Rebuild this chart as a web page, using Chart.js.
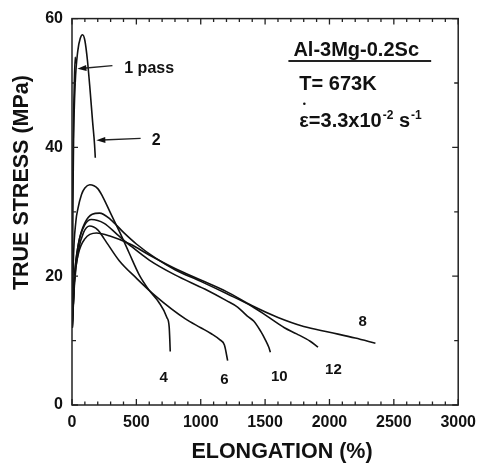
<!DOCTYPE html>
<html>
<head>
<meta charset="utf-8">
<script src="https://cdn.jsdelivr.net/npm/chart.js@4.4.0/dist/chart.umd.min.js"></script>
<style>
  body { margin: 0; background: #fff; }
  canvas { display: block; }
</style>
</head>
<body>
<canvas id="chart" width="484" height="464"></canvas>
<script>
// axis ticks
const xTicks = [0, 500, 1000, 1500, 2000, 2500, 3000];
const yTicks = [0, 20, 40, 60];

// curves: elongation (%) and true stress (MPa)
const pass1E = [1, 4, 10, 18, 25, 30];
const pass1S = [13, 30, 42, 50, 54, 53];

const pass2E = [2, 6, 13, 25, 45, 65, 82, 100, 120, 140, 160, 175, 181];
const pass2S = [13, 30, 42, 50, 55, 57, 57.5, 56.6, 53.5, 49, 44, 40.5, 38.4];

const pass4E = [2, 10, 30, 46, 74, 100, 138, 200, 237, 304, 367, 444, 520, 600, 673, 737, 755, 760, 763];
const pass4S = [13, 22, 28.5, 30.5, 32.7, 33.7, 34.2, 33.6, 32.4, 29.6, 27, 23.6, 20.3, 17.8, 16, 13.6, 12.1, 10, 8.3];

const pass6E = [2, 20, 50, 90, 138, 200, 250, 367, 500, 650, 878, 1000, 1079, 1150, 1184, 1209];
const pass6S = [12, 19, 24, 26.8, 27.8, 27.2, 25.8, 22.4, 19.7, 16.9, 13.4, 12, 11.1, 10.1, 9.3, 6.9];

const pass8E = [2, 20, 50, 100, 190, 300, 450, 600, 800, 1000, 1200, 1400, 1600, 1800, 2000, 2200, 2357];
const pass8S = [12, 19.5, 23.5, 25.8, 26.7, 26.2, 25, 23.3, 21.2, 19.4, 17.6, 15.4, 13.6, 12.2, 11.3, 10.4, 9.6];

const pass10E = [2, 20, 50, 100, 151, 250, 350, 450, 600, 800, 1031, 1200, 1286, 1362, 1413, 1464, 1500, 1528, 1541];
const pass10S = [12, 20, 25, 28, 28.8, 28.2, 26.5, 24.8, 22.5, 20.2, 18, 16.2, 15.2, 13.8, 13, 11.5, 10.2, 9, 8.2];

const pass12E = [2, 20, 50, 100, 214, 300, 400, 500, 650, 800, 1000, 1200, 1400, 1515, 1650, 1745, 1850, 1911];
const pass12S = [12, 20, 25, 28.3, 29.8, 28.8, 26.8, 25, 22.8, 21, 19.2, 17.3, 15.3, 13.8, 12, 11.05, 9.9, 9];

const curves = [
  [pass1E, pass1S], [pass2E, pass2S], [pass4E, pass4S], [pass6E, pass6S],
  [pass8E, pass8S], [pass10E, pass10S], [pass12E, pass12S]
];

const FONT = '"Liberation Sans", Arial, Helvetica, sans-serif';
const INK = '#111';

// text put on the plot, placed in data units
const notes = [
  { text: '1 pass', e: 406, s: 51.5, size: 16 },
  { text: '2', e: 620, s: 40.4, size: 16 },
  { text: '4', e: 680, s: 3.5, size: 15 },
  { text: '6', e: 1152, s: 3.3, size: 15 },
  { text: '10', e: 1545, s: 3.7, size: 15 },
  { text: '12', e: 1966, s: 4.8, size: 15 },
  { text: '8', e: 2225, s: 12.3, size: 15 },
  { text: 'Al-3Mg-0.2Sc', e: 1720, s: 54.25, size: 20 },
  { text: 'T= 673K', e: 1766, s: 48.85, size: 20 }
];
// arrows: from (e0,s0) to tip (e1,s1)
const arrows = [
  [314, 52.7, 42, 52.2],
  [533, 41.4, 189, 41.1]
];

const overlay = {
  id: 'overlay',
  afterDraw(chart) {
    const { ctx, chartArea: a, scales: { x, y } } = chart;
    const px = (v) => x.getPixelForValue(v);
    const py = (v) => y.getPixelForValue(v);
    ctx.save();
    ctx.strokeStyle = '#222';
    ctx.fillStyle = INK;
    ctx.lineWidth = 1.5;
    ctx.strokeRect(a.left, a.top, a.right - a.left, a.bottom - a.top);

    // inward ticks on all four sides
    ctx.lineWidth = 1.3;
    ctx.beginPath();
    for (let v = 0; v <= 3000; v += 100) {
      const p = px(v);
      const len = v % 500 === 0 ? 6 : 3.5;
      ctx.moveTo(p, a.bottom); ctx.lineTo(p, a.bottom - len);
      ctx.moveTo(p, a.top); ctx.lineTo(p, a.top + len);
    }
    for (let v = 0; v <= 60; v += 10) {
      const p = py(v);
      const len = v % 20 === 0 ? 6 : 4;
      ctx.moveTo(a.left, p); ctx.lineTo(a.left + len, p);
      ctx.moveTo(a.right, p); ctx.lineTo(a.right - len, p);
    }
    ctx.stroke();

    // notes
    ctx.textBaseline = 'alphabetic';
    ctx.textAlign = 'left';
    notes.forEach(n => {
      ctx.font = 'bold ' + n.size + 'px ' + FONT;
      ctx.fillText(n.text, px(n.e), py(n.s));
    });

    // underline under alloy name
    ctx.lineWidth = 2;
    ctx.beginPath();
    ctx.moveTo(px(1681), py(53.4));
    ctx.lineTo(px(2790), py(53.4));
    ctx.stroke();

    // strain rate line
    let cx = px(1766);
    const base = py(43.2);
    ctx.font = 'bold 20px ' + FONT;
    ctx.fillText('\u03b5', cx, base);
    ctx.beginPath();
    ctx.arc(cx + 5, base - 23, 1.3, 0, Math.PI * 2);
    ctx.fill();
    cx += ctx.measureText('\u03b5').width;
    ctx.fillText('=3.3x10', cx, base);
    cx += ctx.measureText('=3.3x10').width;
    ctx.font = 'bold 12px ' + FONT;
    ctx.fillText('-2', cx + 1, base - 8);
    cx += ctx.measureText('-2').width + 1;
    ctx.font = 'bold 20px ' + FONT;
    ctx.fillText(' s', cx, base);
    cx += ctx.measureText(' s').width;
    ctx.font = 'bold 12px ' + FONT;
    ctx.fillText('-1', cx + 1, base - 8);

    // arrows
    ctx.lineWidth = 1.4;
    arrows.forEach(([e0, s0, e1, s1]) => {
      const x0 = px(e0), y0 = py(s0), x1 = px(e1), y1 = py(s1);
      const ang = Math.atan2(y1 - y0, x1 - x0);
      ctx.beginPath();
      ctx.moveTo(x0, y0);
      ctx.lineTo(x1 - 6 * Math.cos(ang), y1 - 6 * Math.sin(ang));
      ctx.stroke();
      ctx.beginPath();
      ctx.moveTo(x1, y1);
      ctx.lineTo(x1 - 9 * Math.cos(ang) + 3 * Math.sin(ang), y1 - 9 * Math.sin(ang) - 3 * Math.cos(ang));
      ctx.lineTo(x1 - 9 * Math.cos(ang) - 3 * Math.sin(ang), y1 - 9 * Math.sin(ang) + 3 * Math.cos(ang));
      ctx.closePath();
      ctx.fill();
    });

    // axis titles
    ctx.font = 'bold 21.5px ' + FONT;
    ctx.textAlign = 'center';
    ctx.textBaseline = 'middle';
    ctx.fillText('ELONGATION (%)', a.left + 210, 452);
    ctx.translate(22, a.top + 164);
    ctx.rotate(-Math.PI / 2);
    ctx.fillText('TRUE STRESS (MPa)', 0, 0);
    ctx.restore();
  }
};

const datasets = curves.map(([es, ss]) => ({
  data: es.map((e, i) => ({ x: e, y: ss[i] })),
  borderColor: INK,
  borderWidth: 1.6,
  pointRadius: 0,
  fill: false,
  tension: 0.4,
  cubicInterpolationMode: 'monotone'
}));

Chart.defaults.font.family = FONT;

new Chart(document.getElementById('chart').getContext('2d'), {
  type: 'line',
  data: { datasets: datasets },
  options: {
    responsive: false,
    animation: false,
    layout: { padding: { left: 0, right: 20, top: 16, bottom: 0 } },
    plugins: { legend: { display: false }, tooltip: { enabled: false } },
    scales: {
      x: {
        type: 'linear',
        min: 0,
        max: 3000,
        afterBuildTicks: (s) => { s.ticks = xTicks.map(v => ({ value: v })); },
        afterFit: (s) => { s.height = 59; },
        grid: { display: false, drawTicks: false },
        border: { display: false },
        ticks: { color: INK, padding: 8, maxRotation: 0, callback: (v) => String(v), font: { size: 16, weight: 'bold' } }
      },
      y: {
        min: 0,
        max: 60,
        afterBuildTicks: (s) => { s.ticks = yTicks.map(v => ({ value: v })); },
        afterFit: (s) => { s.width = 72; },
        grid: { display: false, drawTicks: false },
        border: { display: false },
        ticks: { color: INK, padding: 9, callback: (v) => String(v), font: { size: 16, weight: 'bold' } }
      }
    }
  },
  plugins: [overlay]
});
</script>
</body>
</html>
